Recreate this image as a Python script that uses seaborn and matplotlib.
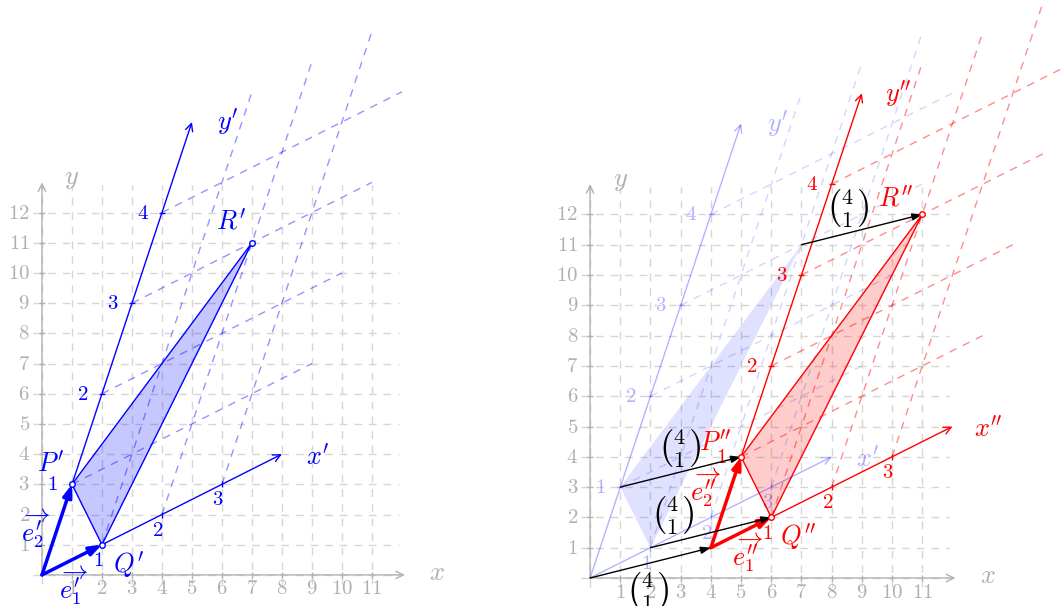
import numpy as np
import matplotlib
matplotlib.use('Agg')
import matplotlib.pyplot as plt
import seaborn as sns
import pandas as pd

# basis of the primed frame and the translation to the double primed one
e1 = np.array([2, 1])
e2 = np.array([1, 3])
shift = np.array([4, 1])

# triangle P, Q, R given in primed coordinates
tri_names = ['P', 'Q', 'R']
tri_a = [0, 1, 2]
tri_b = [1, 0, 3]

# ticks of the plain axes and of the skew axes
x_ticks = list(range(1, 12))
y_ticks = list(range(1, 13))
xp_ticks = [1, 2, 3]
yp_ticks = [1, 2, 3, 4]
xp_len = 4
yp_len = 5

GRAY = '#b0b0b0'
GRID = '#d6d6d6'
DASH = (5.5, 5.0)
TICK_FS = 15
LABEL_FS = 19


def skew(a, b, org):
    return np.asarray(org) + a * e1 + b * e2


def arrow(ax, start, end, color, lw=1.0, style='->,head_length=0.45,head_width=0.22', alpha=1.0):
    ax.annotate('', xy=tuple(end), xytext=tuple(start),
                arrowprops=dict(arrowstyle=style, color=color, lw=lw, alpha=alpha,
                                shrinkA=0, shrinkB=0))


def vec_label(ax, x, y, tex, color):
    # letter with a long arrow drawn above it
    ax.text(x, y, tex, color=color, fontsize=LABEL_FS, ha='center', va='center')
    ax.text(x + 0.1, y + 0.7, r'$\rightarrow$', color=color, fontsize=LABEL_FS, ha='center', va='center')


def base_axes(ax):
    for x in range(0, 12):
        ax.plot([x, x], [-0.3, 12.9], color=GRID, lw=1, dashes=DASH, zorder=0)
    for y in range(0, 13):
        ax.plot([-0.3, 11.9], [y, y], color=GRID, lw=1, dashes=DASH, zorder=0)
    arrow(ax, (0, 0), (12.1, 0), GRAY)
    arrow(ax, (0, 0), (0, 13), GRAY)
    ax.plot(x_ticks, [0] * len(x_ticks), '|', color=GRAY, ms=5)
    ax.plot([0] * len(y_ticks), y_ticks, '_', color=GRAY, ms=5)
    for x in x_ticks:
        ax.text(x, -0.45, '$%d$' % x, color=GRAY, fontsize=TICK_FS, ha='center', va='center')
    for y in y_ticks:
        ax.text(-0.4, y, '$%d$' % y, color=GRAY, fontsize=TICK_FS, ha='right', va='center')
    ax.text(12.9, 0.05, '$x$', color=GRAY, fontsize=LABEL_FS, ha='left', va='center')
    ax.text(0.75, 13.15, '$y$', color=GRAY, fontsize=LABEL_FS, ha='left', va='center')


def skew_frame(ax, org, color, axis_alpha, dash_alpha, fill_alpha, names, prime, edge=True):
    org = np.asarray(org)
    for b in yp_ticks:
        p0 = skew(0, b, org)
        p1 = p0 + xp_len * e1
        ax.plot([p0[0], p1[0]], [p0[1], p1[1]], color=color, alpha=dash_alpha, lw=1, dashes=DASH)
    for a in xp_ticks:
        p0 = skew(a, 0, org)
        p1 = p0 + yp_len * e2
        ax.plot([p0[0], p1[0]], [p0[1], p1[1]], color=color, alpha=dash_alpha, lw=1, dashes=DASH)

    arrow(ax, org, skew(xp_len, 0, org), color, alpha=axis_alpha)
    arrow(ax, org, skew(0, yp_len, org), color, alpha=axis_alpha)

    for a in xp_ticks:
        p = skew(a, 0, org)
        ax.plot(p[0], p[1], '|', color=color, alpha=axis_alpha, ms=4)
        ax.text(p[0] - 0.13, p[1] - 0.5, '$%d$' % a, color=color, alpha=axis_alpha,
                fontsize=TICK_FS, ha='center', va='center')
    for b in yp_ticks:
        p = skew(0, b, org)
        ax.plot(p[0], p[1], '_', color=color, alpha=axis_alpha, ms=4)
        ax.text(p[0] - 0.65, p[1], '$%d$' % b, color=color, alpha=axis_alpha,
                fontsize=TICK_FS, ha='center', va='center')

    xl = skew(xp_len, 0, org) + np.array([1.2, -0.1])
    yl = skew(0, yp_len, org) + np.array([1.2, 0.0])
    ax.text(xl[0], xl[1], "$x%s$" % prime, color=color, alpha=axis_alpha, fontsize=LABEL_FS,
            ha='center', va='center')
    ax.text(yl[0], yl[1], "$y%s$" % prime, color=color, alpha=axis_alpha, fontsize=LABEL_FS,
            ha='center', va='center')

    pts = np.array([skew(a, b, org) for a, b in zip(tri_a, tri_b)])
    ax.fill(pts[:, 0], pts[:, 1], color=color, alpha=fill_alpha, lw=0)
    if edge:
        df = pd.DataFrame({'x': list(pts[:, 0]) + [pts[0, 0]],
                           'y': list(pts[:, 1]) + [pts[0, 1]]})
        sns.lineplot(data=df, x='x', y='y', sort=False, estimator=None, color=color, lw=1, ax=ax)
        ax.plot(pts[:, 0], pts[:, 1], 'o', mfc='white', mec=color, mew=1, ms=4, zorder=5)
    return pts


def unit_vectors(ax, org, color):
    style = '-|>,head_length=0.6,head_width=0.22'
    arrow(ax, org, skew(1, 0, org), color, lw=2.5, style=style)
    arrow(ax, org, skew(0, 1, org), color, lw=2.5, style=style)


sns.set_theme(style='white')
plt.rcParams['mathtext.fontset'] = 'cm'
plt.rcParams['lines.scale_dashes'] = False

fig = plt.figure(figsize=(10.63, 6.06), dpi=100)
ax1 = fig.add_axes([0, 0, 530 / 1063, 1])
ax2 = fig.add_axes([530 / 1063, 0, 533 / 1063, 1])
ax1.set_xlim(-1.4, 16.27)
ax1.set_ylim(-1.03, 19.04)
ax2.set_xlim(-1.99, 15.66)
ax2.set_ylim(-0.924, 19.076)

# left panel: primed frame
base_axes(ax1)
pts = skew_frame(ax1, (0, 0), 'blue', 1.0, 0.42, 0.22, tri_names, "'")
unit_vectors(ax1, (0, 0), 'blue')
ax1.text(0.3, 3.65, "$P'$", color='blue', fontsize=LABEL_FS, ha='center', va='center')
ax1.text(2.9, 0.35, "$Q'$", color='blue', fontsize=LABEL_FS, ha='center', va='center')
ax1.text(6.3, 11.7, "$R'$", color='blue', fontsize=LABEL_FS, ha='center', va='center')
vec_label(ax1, 0.93, -0.56, "$e_1'$", 'blue')
vec_label(ax1, -0.33, 1.32, "$e_2'$", 'blue')

# right panel: faint primed frame and the translated one
base_axes(ax2)
old = skew_frame(ax2, (0, 0), 'blue', 0.3, 0.17, 0.12, tri_names, "'", edge=False)
new = skew_frame(ax2, shift, 'red', 1.0, 0.45, 0.2, tri_names, "''")
unit_vectors(ax2, shift, 'red')

starts = [np.array([0, 0])] + list(old)
label_pos = [(1.92, -0.42), (2.98, 4.3), (2.75, 2.08), (8.54, 12.2)]
for s, lp in zip(starts, label_pos):
    arrow(ax2, s, s + shift, 'black', lw=1, style='-|>,head_length=0.5,head_width=0.18')
    ax2.text(lp[0], lp[1], r'$\binom{%d}{%d}$' % (shift[0], shift[1]), color='black',
             fontsize=23, ha='center', va='center')

ax2.text(4.15, 4.45, "$P''$", color='red', fontsize=LABEL_FS, ha='center', va='center')
ax2.text(6.9, 1.35, "$Q''$", color='red', fontsize=LABEL_FS, ha='center', va='center')
ax2.text(10.1, 12.5, "$R''$", color='red', fontsize=LABEL_FS, ha='center', va='center')
vec_label(ax2, 5.13, 0.62, "$e_1''$", 'red')
vec_label(ax2, 3.74, 2.78, "$e_2''$", 'red')

for ax in (ax1, ax2):
    ax.set_axis_off()

fig.savefig('out.png', dpi=100)
plt.close()
